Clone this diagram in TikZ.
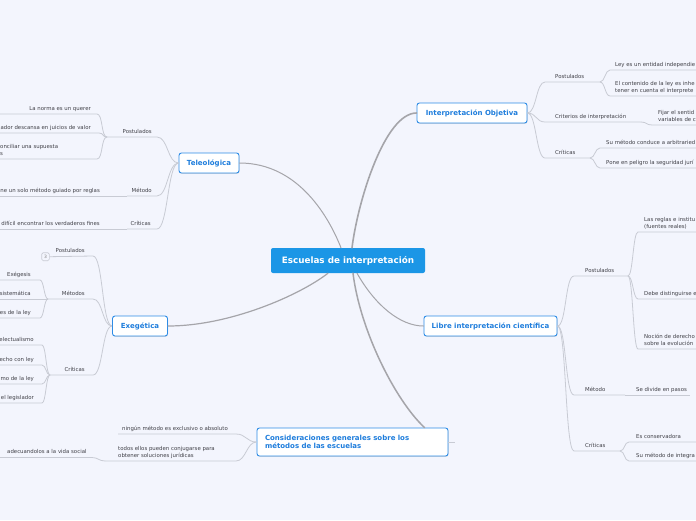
\documentclass[tikz,border=0pt]{standalone}
\usepackage{fontspec}
\setmainfont{DejaVu Sans}
\usetikzlibrary{calc,shadows}
\definecolor{bgc}{RGB}{243,245,253}
\definecolor{mainblue}{RGB}{27,150,230}
\definecolor{topicblue}{RGB}{30,125,220}
\definecolor{borderblue}{RGB}{45,140,230}
\definecolor{txtc}{RGB}{65,65,72}
\definecolor{brc}{RGB}{200,203,212}
\definecolor{mcc}{RGB}{165,165,170}
\newcommand\smallfnt{\fontsize{5.4}{7}\selectfont}
\newcommand\lsx{\rule[-1.5pt]{0pt}{5pt}}
\begin{document}
\begin{tikzpicture}[x=1pt,y=-1pt,
  central/.style={fill=mainblue, text=white, font=\bfseries\fontsize{8.8}{10}\selectfont, rounded corners=2pt, minimum width=154pt, minimum height=25pt, inner sep=0pt},
  topic/.style={draw=borderblue, line width=0.9pt, fill=white, rounded corners=2.5pt, text=topicblue, font=\bfseries\fontsize{7}{8.5}\selectfont, inner sep=0pt, minimum height=20pt, drop shadow={shadow xshift=0.5pt, shadow yshift=-0.8pt, opacity=0.25}},
  lblL/.style={font=\smallfnt, text=txtc, inner sep=0pt, anchor=south west, align=left},
  lblR/.style={font=\smallfnt, text=txtc, inner sep=0pt, anchor=south east, align=right},
  brl/.style={draw=brc, line width=0.8pt},
  mainc/.style={draw=mcc, line cap=round}]
\useasboundingbox (0,0) rectangle (696,520);
\clip (0,0) rectangle (696,520);
\fill[bgc] (0,0) rectangle (696,520);

% ---------- main nodes ----------
\node[central] (C) at (348,260.5) {Escuelas de interpretación};
\node[topic, minimum width=110pt] (IO) at (472,113) {Interpretación Objetiva};
\node[topic, minimum width=60pt] (T) at (209,163) {Teleológica};
\node[topic, minimum width=133pt] (L) at (490.5,326) {Libre interpretación científica};
\node[topic, minimum width=55pt] (E) at (140,326) {Exegética};
\node[topic, minimum width=191pt, minimum height=28pt, align=left, text width=175pt] (CG) at (352.5,442) {Consideraciones generales sobre los\\métodos de las escuelas};

% ---------- central connectors ----------
\coordinate (CtT) at ($(C.north)+(-7,0)$);
\coordinate (CtI) at ($(C.north)+(4,0)$);
\coordinate (CbE) at ($(C.south)+(-20,0)$);
\coordinate (CbG) at ($(C.south)+(5,0)$);
\coordinate (CbL) at ($(C.south)+(9,0)$);
\coordinate (CGt) at ($(CG.north)+(72,0)$);
\draw[mainc, line width=1pt] (T.east) .. controls (300,163) and (330,220) .. (CtT);
\draw[mainc, line width=1.6pt] (CtI) .. controls (358,200) and (385,113) .. (IO.west);
\draw[mainc, line width=1.2pt] (E.east) .. controls (230,326) and (300,295) .. (CbE);
\draw[mainc, line width=1.5pt] (CbG) .. controls (360,330) and (395,400) .. (CGt);
\draw[mainc, line width=1pt] (CbL) .. controls (375,305) and (400,326) .. (L.west);

% ---------- Teleologica ----------
\coordinate (Tp0) at (157,137); \coordinate (TpJ) at (107,137);
\coordinate (Tm0) at (157,196); \coordinate (TmJ) at (127,196);
\coordinate (Tc0) at (157,229); \coordinate (TcJ) at (127,229);
\node[lblR] (Tp) at (152,135) {Postulados\lsx};
\node[lblR] (Tm) at (152,194) {Método\lsx};
\node[lblR] (Tc) at (151,227) {Críticas\lsx};
\draw[brl] (T.west) .. controls +(-11,0) and +(11,0) .. (Tp0) -- (TpJ);
\draw[brl] (T.west) .. controls +(-11,0) and +(11,0) .. (Tm0) -- (TmJ);
\draw[brl] (T.west) .. controls +(-11,0) and +(11,0) .. (Tc0) -- (TcJ);
\coordinate (Tp1a) at (97,114); \coordinate (Tp1b) at (-5,114);
\coordinate (Tp2a) at (99,133); \coordinate (Tp2b) at (-5,133);
\coordinate (Tp3a) at (97,159); \coordinate (Tp3b) at (-5,159);
\coordinate (Tm1b) at (-5,196); \coordinate (Tc1b) at (-5,229);
\node[lblR] (Tp1) at (91,112) {La norma es un querer\lsx};
\node[lblR] (Tp2) at (91,131) {ador descansa en juicios de valor\lsx};
\node[lblL] (Tp3) at (0,157) {onciliar una supuesta\\s\lsx};
\node[lblR] (Tm1) at (100,194) {ne un solo método guiado por reglas\lsx};
\node[lblR] (Tc1) at (100,227) {difícil encontrar los verdaderos fines\lsx};
\draw[brl] (TpJ) .. controls +(-6,0) and +(6,0) .. (Tp1a) -- (Tp1b);
\draw[brl] (TpJ) .. controls +(-5,0) and +(5,0) .. (Tp2a) -- (Tp2b);
\draw[brl] (TpJ) .. controls +(-6,0) and +(6,0) .. (Tp3a) -- (Tp3b);
\draw[brl] (TmJ) -- (Tm1b);
\draw[brl] (TcJ) -- (Tc1b);

% ---------- Exegetica ----------
\coordinate (Ep0) at (93,256);
\coordinate (Em0) at (93,299); \coordinate (EmJ) at (48,299);
\coordinate (Ec0) at (93,375); \coordinate (EcJ) at (50,375);
\node[draw=brc, line width=0.6pt, rounded corners=1.5pt, minimum width=7.6pt, minimum height=8pt, inner sep=0pt, font=\fontsize{4.5}{5}\selectfont, text=gray] (Eb) at (45.5,256.7) {3};
\node[lblR] (Ep) at (85,254) {Postulados\lsx};
\node[lblR] (Em) at (85,297) {Métodos\lsx};
\node[lblR] (Ec) at (85,373) {Críticas\lsx};
\draw[brl] (E.west) .. controls +(-10,0) and +(10,0) .. (Ep0) -- (Eb.east);
\draw[brl] (E.west) .. controls +(-10,0) and +(10,0) .. (Em0) -- (EmJ);
\draw[brl] (E.west) .. controls +(-10,0) and +(10,0) .. (Ec0) -- (EcJ);
\node[lblR] (Em1) at (31,278) {Exégesis\lsx};
\node[lblR] (Em2) at (31,297) {sistemática\lsx};
\node[lblR] (Em3) at (31,316) {es de la ley\lsx};
\coordinate (Em1a) at (40,280); \coordinate (Em1b) at (-5,280);
\coordinate (Em2b) at (-5,299);
\coordinate (Em3a) at (40,318); \coordinate (Em3b) at (-5,318);
\draw[brl] (EmJ) .. controls +(-4,0) and +(4,0) .. (Em1a) -- (Em1b);
\draw[brl] (EmJ) -- (Em2b);
\draw[brl] (EmJ) .. controls +(-4,0) and +(4,0) .. (Em3a) -- (Em3b);
\node[lblR] (Ec1) at (34,343) {electualismo\lsx};
\node[lblR] (Ec2) at (34,363) {echo con ley\lsx};
\node[lblR] (Ec3) at (34,382) {mo de la ley\lsx};
\node[lblR] (Ec4) at (34,401) {el legislador\lsx};
\coordinate (Ec1a) at (42,345); \coordinate (Ec1b) at (-5,345);
\coordinate (Ec2a) at (42,365); \coordinate (Ec2b) at (-5,365);
\coordinate (Ec3a) at (42,384); \coordinate (Ec3b) at (-5,384);
\coordinate (Ec4a) at (42,403); \coordinate (Ec4b) at (-5,403);
\draw[brl] (EcJ) .. controls +(-4,0) and +(4,0) .. (Ec1a) -- (Ec1b);
\draw[brl] (EcJ) .. controls +(-4,0) and +(4,0) .. (Ec2a) -- (Ec2b);
\draw[brl] (EcJ) .. controls +(-4,0) and +(4,0) .. (Ec3a) -- (Ec3b);
\draw[brl] (EcJ) .. controls +(-4,0) and +(4,0) .. (Ec4a) -- (Ec4b);

% ---------- Consideraciones ----------
\coordinate (G1a) at (236,434); \coordinate (G1b) at (118,434);
\coordinate (G2a) at (236,461); \coordinate (GJ) at (105,461);
\coordinate (G3a) at (92,457.5); \coordinate (G3b) at (-5,457.5);
\coordinate (Gst) at (455,442);
\node[lblL] (G1) at (122,432) {ningún método es exclusivo o absoluto\lsx};
\node[lblL] (G2) at (118,459) {todos ellos pueden conjugarse para\\obtener soluciones jurídicas\lsx};
\node[lblL] (G3) at (7,455.5) {adecuandolos a la vida social\lsx};
\draw[brl] (CG.west) .. controls +(-10,0) and +(10,0) .. (G1a) -- (G1b);
\draw[brl] (CG.west) .. controls +(-10,0) and +(10,0) .. (G2a) -- (GJ);
\draw[brl] (GJ) .. controls +(-6,0) and +(6,0) .. (G3a) -- (G3b);
\draw[brl] (CG.east) -- (Gst);

% ---------- Interpretacion Objetiva ----------
\coordinate (Ip0) at (545,82); \coordinate (IpJ) at (600,82);
\coordinate (Ir0) at (545,122); \coordinate (IrJ) at (641,122);
\coordinate (Ic0) at (545,158); \coordinate (IcJ) at (590,158);
\node[lblL] (Ip) at (555,80) {Postulados\lsx};
\node[lblL] (Ir) at (555,120) {Criterios de interpretación\lsx};
\node[lblL] (Ic) at (555,156) {Críticas\lsx};
\draw[brl] (IO.east) .. controls +(9,0) and +(-9,0) .. (Ip0) -- (IpJ);
\draw[brl] (IO.east) .. controls +(9,0) and +(-9,0) .. (Ir0) -- (IrJ);
\draw[brl] (IO.east) .. controls +(9,0) and +(-9,0) .. (Ic0) -- (IcJ);
\coordinate (Ip1a) at (610,70); \coordinate (Ip1b) at (700,70);
\coordinate (Ip2a) at (610,96); \coordinate (Ip2b) at (700,96);
\coordinate (Ir1a) at (652,125); \coordinate (Ir1b) at (700,125);
\coordinate (Ic1a) at (600,148); \coordinate (Ic1b) at (700,148);
\coordinate (Ic2a) at (600,168); \coordinate (Ic2b) at (700,168);
\node[lblL] (Ip1) at (615,68) {Ley es un entidad independie\lsx};
\node[lblL] (Ip2) at (615,94) {El contenido de la ley es inhe\\tener en cuenta el interprete\lsx};
\node[lblL] (Ir1) at (658,123) {Fijar el sentid\\variables de c\lsx};
\node[lblL] (Ic1) at (606,146) {Su método conduce a arbitraried\lsx};
\node[lblL] (Ic2) at (606,166) {Pone en peligro la seguridad jurí\lsx};
\draw[brl] (IpJ) .. controls +(5,0) and +(-5,0) .. (Ip1a) -- (Ip1b);
\draw[brl] (IpJ) .. controls +(5,0) and +(-5,0) .. (Ip2a) -- (Ip2b);
\draw[brl] (IrJ) .. controls +(6,0) and +(-6,0) .. (Ir1a) -- (Ir1b);
\draw[brl] (IcJ) .. controls +(5,0) and +(-5,0) .. (Ic1a) -- (Ic1b);
\draw[brl] (IcJ) .. controls +(5,0) and +(-5,0) .. (Ic2a) -- (Ic2b);

% ---------- Libre interpretacion cientifica ----------
\coordinate (Lp0) at (574,276); \coordinate (LpJ) at (628,276);
\coordinate (Lm0) at (574,395); \coordinate (LmJ) at (625,395); \coordinate (Lm1b) at (690,395);
\coordinate (Lc0) at (574,451); \coordinate (LcJ) at (620,451);
\node[lblL] (Lp) at (585,274) {Postulados\lsx};
\node[lblL] (Lm) at (585,393) {Método\lsx};
\node[lblL] (Lc) at (585,449) {Críticas\lsx};
\draw[brl] (L.east) .. controls +(9,0) and +(-9,0) .. (Lp0) -- (LpJ);
\draw[brl] (L.east) .. controls +(9,0) and +(-9,0) .. (Lm0) -- (LmJ);
\draw[brl] (L.east) .. controls +(9,0) and +(-9,0) .. (Lc0) -- (LcJ);
\coordinate (Lp1a) at (638,232); \coordinate (Lp1b) at (700,232);
\coordinate (Lp2a) at (638,299); \coordinate (Lp2b) at (700,299);
\coordinate (Lp3a) at (638,349); \coordinate (Lp3b) at (700,349);
\coordinate (Lc1a) at (629,442); \coordinate (Lc1b) at (700,442);
\coordinate (Lc2a) at (629,461); \coordinate (Lc2b) at (700,461);
\node[lblL] (Lp1) at (644,230) {Las reglas e institu\\(fuentes reales)\lsx};
\node[lblL] (Lp2) at (644,297) {Debe distinguirse e\lsx};
\node[lblL] (Lp3) at (644,347) {Noción de derecho\\sobre la evolución\lsx};
\node[lblL] (Lm1) at (636,393) {Se divide en pasos\lsx};
\node[lblL] (Lc1) at (636,440) {Es conservadora\lsx};
\node[lblL] (Lc2) at (636,459) {Su método de integra\lsx};
\draw[brl] (LpJ) .. controls +(5,0) and +(-5,0) .. (Lp1a) -- (Lp1b);
\draw[brl] (LpJ) .. controls +(5,0) and +(-5,0) .. (Lp2a) -- (Lp2b);
\draw[brl] (LpJ) .. controls +(5,0) and +(-5,0) .. (Lp3a) -- (Lp3b);
\draw[brl] (LmJ) -- (Lm1b);
\draw[brl] (LcJ) .. controls +(5,0) and +(-5,0) .. (Lc1a) -- (Lc1b);
\draw[brl] (LcJ) .. controls +(5,0) and +(-5,0) .. (Lc2a) -- (Lc2b);
\end{tikzpicture}
\end{document}
